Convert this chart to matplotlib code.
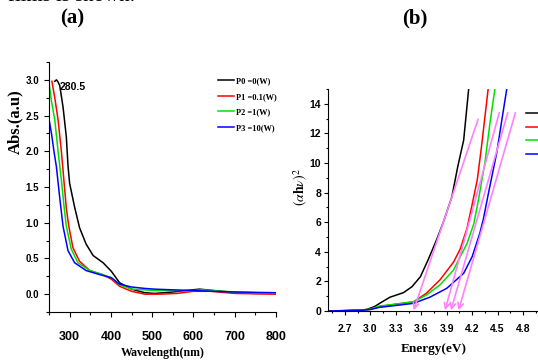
import matplotlib
matplotlib.use('Agg')
import matplotlib.pyplot as plt
from matplotlib.ticker import MultipleLocator

plt.rcParams['mathtext.fontset'] = 'stix'

# ---- panel (a): absorbance vs wavelength ----
wl_p0 = [264, 268, 272, 276, 284, 292, 296, 300, 312, 324, 340, 357, 381, 401, 421, 450, 482, 506, 550, 580, 615, 650, 700, 750, 800]
abs_p0 = [2.98, 3.0, 2.97, 2.92, 2.62, 2.2, 1.8, 1.55, 1.22, 0.93, 0.70, 0.54, 0.44, 0.32, 0.16, 0.07, 0.02, 0.01, 0.03, 0.05, 0.07, 0.05, 0.02, 0.01, 0.01]
wl_p1 = [257, 264, 272, 280, 286, 292, 298, 308, 324, 349, 381, 401, 421, 450, 482, 520, 560, 600, 640, 700, 800]
abs_p1 = [2.98, 2.75, 2.44, 2.0, 1.6, 1.2, 0.95, 0.65, 0.46, 0.33, 0.27, 0.21, 0.11, 0.04, 0.0, 0.0, 0.01, 0.04, 0.04, 0.01, 0.0]
wl_p2 = [250, 256, 264, 272, 280, 286, 292, 304, 320, 349, 377, 401, 421, 450, 482, 506, 600, 620, 700, 800]
abs_p2 = [2.96, 2.7, 2.44, 2.0, 1.6, 1.25, 0.95, 0.63, 0.44, 0.33, 0.28, 0.23, 0.13, 0.07, 0.06, 0.05, 0.05, 0.06, 0.03, 0.01]
wl_p3 = [250, 256, 262, 268, 276, 284, 296, 312, 340, 369, 401, 421, 450, 482, 506, 550, 600, 700, 800]
abs_p3 = [2.45, 2.25, 2.0, 1.78, 1.35, 0.95, 0.61, 0.44, 0.33, 0.28, 0.23, 0.14, 0.10, 0.08, 0.07, 0.06, 0.05, 0.03, 0.02]

# ---- panel (b): Tauc plot ----
e_p0 = [2.5, 2.7, 2.9, 2.96, 3.05, 3.11, 3.23, 3.39, 3.49, 3.59, 3.68, 3.78, 3.86, 3.96, 4.03, 4.10, 4.16]
t_p0 = [0.0, 0.03, 0.07, 0.11, 0.3, 0.52, 0.93, 1.24, 1.64, 2.32, 3.45, 4.8, 6.0, 7.7, 9.75, 11.55, 15.07]
e_p1 = [2.5, 2.7, 2.9, 3.0, 3.11, 3.31, 3.51, 3.66, 3.82, 3.98, 4.06, 4.14, 4.20, 4.26, 4.31, 4.39]
t_p1 = [0.0, 0.02, 0.06, 0.12, 0.3, 0.47, 0.62, 1.2, 2.1, 3.3, 4.2, 5.6, 7.2, 8.85, 11.1, 15.07]
e_p2 = [2.5, 2.7, 2.9, 3.0, 3.11, 3.31, 3.51, 3.66, 3.82, 3.98, 4.14, 4.22, 4.28, 4.35, 4.41, 4.47]
t_p2 = [0.0, 0.02, 0.06, 0.12, 0.34, 0.47, 0.63, 1.08, 1.76, 2.77, 4.57, 5.9, 7.7, 10.0, 12.7, 15.07]
e_p3 = [2.5, 2.7, 2.9, 3.0, 3.11, 3.31, 3.51, 3.70, 3.90, 4.10, 4.20, 4.29, 4.33, 4.39, 4.49, 4.55, 4.61]
t_p3 = [0.0, 0.02, 0.05, 0.1, 0.25, 0.38, 0.52, 0.93, 1.53, 2.55, 3.67, 5.25, 6.15, 7.9, 10.7, 12.9, 15.07]

# tangent lines: x-intercept and upper end
tan_e0 = [3.51, 3.88, 3.95, 4.04]
tan_e1 = [4.27, 4.52, 4.62, 4.71]
tan_t1 = [12.95, 13.4, 13.4, 13.4]

labels = ['P0 =0(W)', 'P1 =0.1(W)', 'P2 =1(W)', 'P3 =10(W)']
colors = ['black', 'red', '#00e000', 'blue']

serif = ['Liberation Serif', 'DejaVu Serif']
narrow = ['Liberation Sans Narrow', 'Liberation Sans', 'DejaVu Sans']

fig = plt.figure(figsize=(5.38, 3.61), dpi=100)
fig.text(8 / 538, 1 - 1 / 361, 'films is shown.', family=serif, fontsize=15, va='baseline')
fig.text(72 / 538, 1 - 18 / 361, '(a)', family=serif, fontweight='bold', fontsize=15, ha='center', va='center')
fig.text(415 / 538, 1 - 18 / 361, '(b)', family=serif, fontweight='bold', fontsize=15, ha='center', va='center')

# (a)
ax1 = fig.add_axes([49 / 538, 1 - 312 / 361, 227 / 538, 250 / 361])
lines = []
for wl, ab, c, lab in zip([wl_p0, wl_p1, wl_p2, wl_p3], [abs_p0, abs_p1, abs_p2, abs_p3], colors, labels):
    l, = ax1.plot(wl, ab, color=c, lw=1.1, label=lab)
    lines.append(l)
ax1.set_xlim(250, 800)
ax1.set_ylim(-0.25, 3.25)
ax1.spines['top'].set_visible(False)
ax1.spines['right'].set_visible(False)
ax1.set_xticks([300, 400, 500, 600, 700, 800])
ax1.xaxis.set_minor_locator(MultipleLocator(50))
ax1.yaxis.set_major_locator(MultipleLocator(0.5))
ax1.yaxis.set_minor_locator(MultipleLocator(0.25))
ax1.tick_params(which='major', length=3.5, width=0.8, direction='out')
ax1.tick_params(which='minor', length=2, width=0.8, direction='out')
ax1.tick_params(axis='x', which='major', pad=10)
for t in ax1.get_xticklabels():
    t.set_family(narrow); t.set_fontweight('bold'); t.set_fontsize(9)
for t in ax1.get_yticklabels():
    t.set_family(narrow); t.set_fontweight('bold'); t.set_fontsize(7)
ax1.set_xlabel('Wavelength(nm)', family=serif, fontweight='bold', fontsize=8.5, labelpad=3)
ax1.set_ylabel('Abs.(a.u)', family=serif, fontweight='bold', fontsize=12)
ax1.yaxis.set_label_coords(-0.115, 0.76)
ax1.text(276, 2.9, '280.5', family=narrow, fontweight='bold', fontsize=7.5, va='center')
fig.legend(handles=lines, labels=labels, loc='upper left', bbox_to_anchor=(215 / 538, 1 - 74 / 361),
           frameon=False, prop={'family': serif, 'weight': 'bold', 'size': 6},
           handlelength=1.9, handletextpad=0.25, labelspacing=0.9, borderaxespad=0)

# (b)
ax2 = fig.add_axes([328 / 538, 1 - 311 / 361, 212 / 538, 222 / 361])
lines2 = []
for e, t, c, lab in zip([e_p0, e_p1, e_p2, e_p3], [t_p0, t_p1, t_p2, t_p3], colors, labels):
    l, = ax2.plot(e, t, color=c, lw=1.1, label=lab)
    lines2.append(l)
for x0, x1, y1 in zip(tan_e0, tan_e1, tan_t1):
    ax2.annotate('', xy=(x0, 0.05), xytext=(x1, y1),
                 arrowprops=dict(arrowstyle='->', color='#ff80ff', lw=1.2, shrinkA=0, shrinkB=0))
ax2.set_xlim(2.5, 5.0)
ax2.set_ylim(0, 15)
ax2.spines['top'].set_visible(False)
ax2.spines['right'].set_visible(False)
ax2.set_xticks([2.7, 3.0, 3.3, 3.6, 3.9, 4.2, 4.5, 4.8])
ax2.xaxis.set_minor_locator(MultipleLocator(0.15))
ax2.yaxis.set_major_locator(MultipleLocator(2))
ax2.yaxis.set_minor_locator(MultipleLocator(1))
ax2.tick_params(which='major', length=3, width=0.8, direction='out')
ax2.tick_params(which='minor', length=1.5, width=0.8, direction='out')
ax2.tick_params(axis='x', which='major', pad=6)
ax2.tick_params(axis='y', which='major', pad=2)
for t in ax2.get_xticklabels() + ax2.get_yticklabels():
    t.set_family(narrow); t.set_fontweight('bold'); t.set_fontsize(7.5)
ax2.set_xlabel('Energy(eV)', family=serif, fontweight='bold', fontsize=9.5, labelpad=7)
ax2.set_ylabel(r'$(\alpha\mathbf{h}\nu)^2$', fontsize=10)
ax2.yaxis.set_label_coords(-0.085, 0.56)
fig.legend(handles=lines2, labels=labels, loc='upper left', bbox_to_anchor=(522 / 538, 1 - 106 / 361),
           frameon=False, prop={'family': serif, 'weight': 'bold', 'size': 6.5},
           handlelength=1.7, handletextpad=0.3, labelspacing=0.6, borderaxespad=0)

fig.savefig('out.png', dpi=100)
